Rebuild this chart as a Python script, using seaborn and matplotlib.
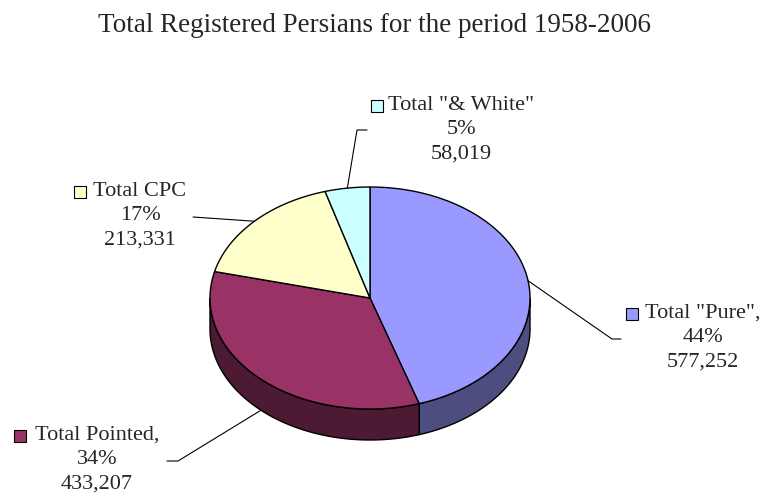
import numpy as np
import matplotlib.pyplot as plt
import seaborn as sns
from matplotlib.patches import Polygon

sns.set_theme(style='white')
plt.rcParams['font.family'] = ['Liberation Serif', 'DejaVu Serif']

# data
names = ['Total "Pure",', 'Total Pointed,', 'Total CPC', 'Total "& White"']
values = [577252, 433207, 213331, 58019]
pct_labels = ['44%', '34%', '17%', '5%']
top_colors = ['#9999FF', '#993366', '#FFFFCC', '#CCFFFF']

# pie geometry (in pixel units of the canvas)
cx, cy = 370, 298
rx, ry = 160, 111
depth = 31

fig = plt.figure(figsize=(7.8, 4.97), dpi=100)
ax = fig.add_axes([0, 0, 1, 1])
ax.set_xlim(0, 780)
ax.set_ylim(497, 0)
ax.axis('off')


def pt(t, dz=0):
    t = np.radians(t)
    return cx + rx * np.cos(t), cy - ry * np.sin(t) + dz


# angles clockwise from 12 o'clock
vals = np.array(values, dtype=float)
spans = 360 * vals / vals.sum()
starts = 90 - np.concatenate([[0], np.cumsum(spans)[:-1]])
ends = starts - spans

# side walls (front half only: angles between -180 and 0)
for s, e, c in zip(starts, ends, top_colors):
    a, b = min(s, 0), max(e, -180)
    if a <= b:
        continue
    ts = np.linspace(a, b, 80)
    top = [pt(t) for t in ts]
    bot = [pt(t, depth) for t in ts[::-1]]
    dark = tuple(0.5 * np.array(sns.color_palette([c])[0]))
    ax.add_patch(Polygon(top + bot, closed=True, fc=dark, ec='black', lw=1.0))

# top surface
for s, e, c in zip(starts, ends, top_colors):
    ts = np.linspace(s, e, 120)
    poly = [(cx, cy)] + [pt(t) for t in ts]
    ax.add_patch(Polygon(poly, closed=True, fc=c, ec='black', lw=1.0))

# labels
label_pos = [(703, 313), (97, 435), (140, 191), (461, 105)]
square_x = [632, 20, 80, 377]
elbows = [[(612, 339), (621, 339)],
          [(178, 461), (167, 461)],
          [(193, 217)],
          [(357, 130), (367, 130)]]

for i in range(len(values)):
    mid = (starts[i] + ends[i]) / 2
    dz = depth if np.sin(np.radians(mid)) < 0 else 0
    x0, y0 = pt(mid, dz)
    xs = [x0] + [p[0] for p in elbows[i]]
    ys = [y0] + [p[1] for p in elbows[i]]
    ax.plot(xs, ys, color='black', lw=0.8)

    lx, ly = label_pos[i]
    ax.text(lx, ly, names[i], ha='center', va='center', fontsize=16)
    ax.text(lx, ly + 25, pct_labels[i], ha='center', va='center', fontsize=16)
    ax.text(lx, ly + 49, f'{values[i]:,}', ha='center', va='center', fontsize=16)
    ax.plot([square_x[i]], [ly + 1], marker='s', ms=8, mfc=top_colors[i],
            mec='black', mew=0.8)

ax.text(375, 25, 'Total Registered Persians for the period 1958-2006',
        ha='center', va='center', fontsize=19.5)

fig.savefig('out.png', dpi=100)
